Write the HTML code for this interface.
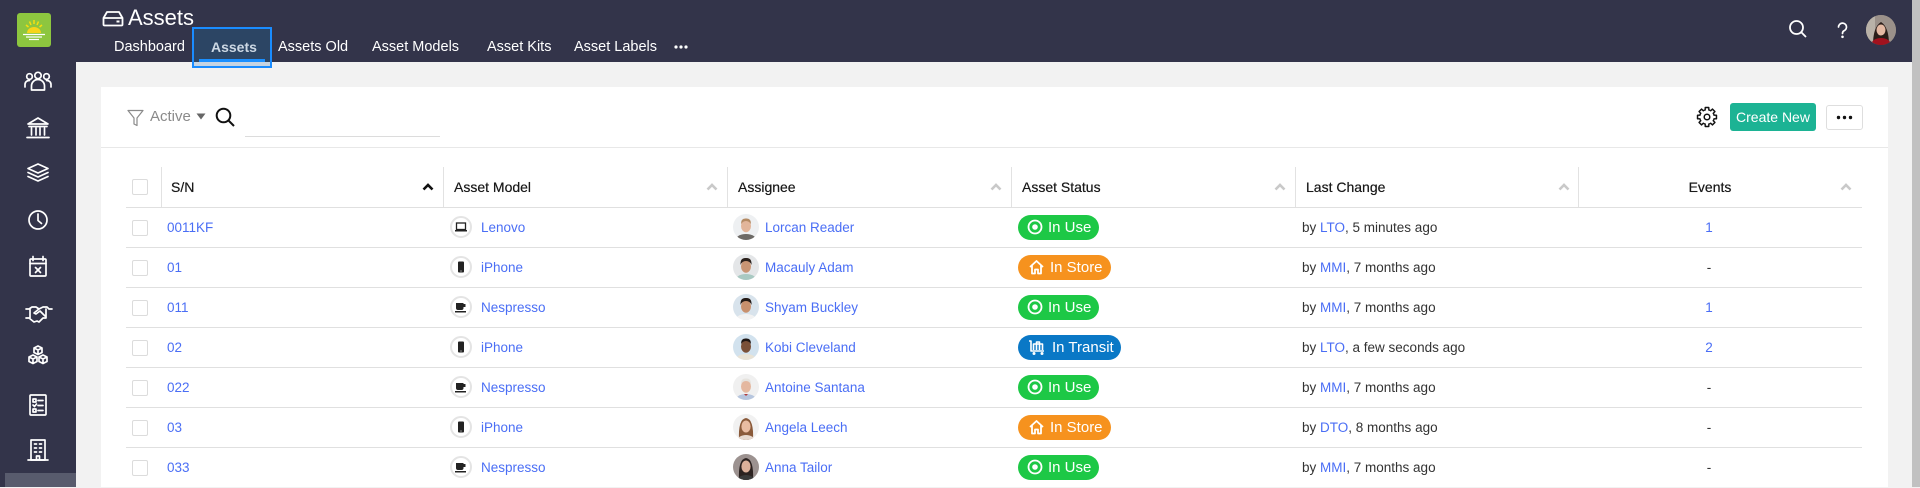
<!DOCTYPE html>
<html><head><meta charset="utf-8">
<style>
*{margin:0;padding:0;box-sizing:border-box}
body{width:1920px;height:487px;overflow:hidden;background:#f2f2f2;font-family:"Liberation Sans",sans-serif;position:relative}
.a{position:absolute}
#hdr{left:0;top:0;width:1912px;height:62px;background:#33344a}
#side{left:0;top:0;width:76px;height:487px;background:#33344a}
#sbot{left:5px;top:473px;width:71px;height:14px;background:#585b6d}
#sb{left:1912px;top:0;width:8px;height:487px;background:#c1c1c1}
.tab{top:40px;height:15px;line-height:15px;font-size:14.5px;color:#fff;white-space:nowrap}
#card{left:101px;top:87px;width:1787px;height:400px;background:#fff}
.hl{position:absolute;height:1px;background:#e0e0e0;left:126px;width:1736px}
.vs{position:absolute;top:167px;height:40px;width:1px;background:#e2e2e2}
.th{position:absolute;top:167px;height:40px;line-height:40px;font-size:14px;color:#1a1a1a;white-space:nowrap;text-shadow:0 0 0.4px #1a1a1a}
.c{position:absolute;height:40px;line-height:40px;font-size:13.5px;color:#333;white-space:nowrap}
.lk{color:#4a6ef5}
.cb{position:absolute;left:132px;width:16px;height:16px;border:1px solid #dcdcdc;border-radius:2px;background:#fff}
.mi{position:absolute;left:450px;width:22px;height:22px;border:2px solid #e4e4e4;border-radius:50%;background:#fff}
.mi svg{position:absolute;left:0;top:0}
.av{position:absolute;left:733px;width:26px;height:26px;border-radius:50%;overflow:hidden}
.pill{position:absolute;left:1018px;height:25px;border-radius:13px;color:#fff;font-size:15px;line-height:25px;white-space:nowrap}
.pill svg{position:absolute;top:4px}
.pill span{position:absolute;top:0}
.use{background:#1dc846;width:81px}
.store{background:#f6921e;width:93px}
.transit{background:#0a78c6;width:103px}
.arr{position:absolute;top:183px}
</style></head>
<body>
<div id="hdr" class="a"></div>
<div id="side" class="a"></div>
<div id="sbot" class="a"></div>
<div id="sb" class="a"></div>

<!-- sidebar svg -->
<svg class="a" style="left:0;top:0" width="76" height="487" viewBox="0 0 76 487">
  <rect x="17" y="13" width="34" height="34" rx="3" fill="#8dc63f"/>
  <g stroke="#f7de10" stroke-width="1.5">
    <line x1="34" y1="20" x2="34" y2="24"/><line x1="26" y1="25" x2="28.5" y2="27"/><line x1="42" y1="25" x2="39.5" y2="27"/>
    <line x1="29.5" y1="21.5" x2="31" y2="25"/><line x1="38.5" y1="21.5" x2="37" y2="25"/>
  </g>
  <path d="M27 33 a7 6 0 0 1 14 0 z" fill="#f7d51a"/>
  <g stroke="#fff" stroke-width="1.2"><line x1="23" y1="34.5" x2="45" y2="34.5"/><line x1="26" y1="37" x2="42" y2="37"/><line x1="29" y1="39.5" x2="39" y2="39.5"/></g>
  <g stroke="#fff" fill="none" stroke-width="1.7" stroke-linejoin="round" stroke-linecap="round">
    <circle cx="29.5" cy="76.5" r="2.8"/><circle cx="38" cy="75.5" r="3.2"/><circle cx="46.5" cy="76.5" r="2.8"/>
    <path d="M31.5 90 v-4 a6.5 6.5 0 0 1 13 0 v4 z"/>
    <path d="M25 87 v-2.5 a4 4 0 0 1 4.5 -4"/><path d="M51 87 v-2.5 a4 4 0 0 0 -4.5 -4"/>
    <path d="M28 124 L38 118 L48 124 Z"/><path d="M29 126.5h18 M31.5 128v7 M36 128v7 M40 128v7 M44.5 128v7 M27 137.5h22"/>
    <path d="M38 164 L48 168.5 L38 173 L28 168.5 Z"/><path d="M28 172.5 L38 177 L48 172.5"/><path d="M28 176.5 L38 181 L48 176.5"/>
    <circle cx="38" cy="220" r="9"/><path d="M38 214 v6.5 l3.5 3"/>
    <rect x="30" y="259" width="16" height="17" rx="1"/><path d="M30 263.5h16 M33 256.5v4 M43 256.5v4 M35.5 267.5l5 5 M40.5 267.5l-5 5"/>
    <path d="M26 309 h3 l3 -2 h4 l3 2 l4 -2 h4 l2 2 h3 M26 318 h3 l5 4 l3 -1 l2 1 l4 -4 h3 M30 309 v9 M46 309 v9 M39 309 l-5 4 l2 1 l4 -3 l5 5"/>
    <path d="M34 348 l4 -2 l4 2 v4.5 l-4 2 l-4 -2 z M34 348 l4 2 l4 -2 M38 350 v4.5"/>
    <path d="M29 357 l4 -2 l4 2 v4.5 l-4 2 l-4 -2 z M29 357 l4 2 l4 -2 M33 359 v4.5"/>
    <path d="M39 357 l4 -2 l4 2 v4.5 l-4 2 l-4 -2 z M39 357 l4 2 l4 -2 M43 359 v4.5"/>
    <rect x="30" y="395" width="16" height="20" rx="1"/><path d="M33 399h3v3h-3z M38 400.5h5 M33 405l1.5 1.5 l2 -2.5 M38 405.5h5 M33 409h3v3h-3z M38 410.5h5"/>
    <rect x="31" y="440" width="14" height="20"/><path d="M28 460h20 M34.5 444h2 M39.5 444h2 M34.5 448h2 M39.5 448h2 M34.5 452h2 M39.5 452h2 M36.5 460v-4h3v4"/>
  </g>
</svg>

<!-- title -->
<svg class="a" style="left:102px;top:10px" width="22" height="17" viewBox="0 0 22 17">
  <path d="M1.5 8 L5 2 H17 L20.5 8 V14.5 a1 1 0 0 1 -1 1 H2.5 a1 1 0 0 1 -1 -1 Z M1.5 8 H20.5" fill="none" stroke="#fff" stroke-width="1.8" stroke-linejoin="round"/>
  <rect x="14.5" y="10.5" width="3" height="2" fill="#fff"/>
</svg>
<div class="a" style="left:128px;top:7px;font-size:22px;line-height:22px;color:#fff">Assets</div>

<!-- tabs -->
<div class="tab a" style="left:114px">Dashboard</div>
<div class="a" style="left:192px;top:27px;width:80px;height:41px;border:2px solid #1a8cff;background:#2c4564"></div>
<div class="a" style="left:194px;top:62px;width:76px;height:4px;background:#c6d4e2"></div>
<div class="a" style="left:199px;top:59px;width:66px;height:3px;background:#1a8fff"></div>
<div class="tab a" style="left:211px;color:#cdd8e4;font-weight:bold;font-size:14px">Assets</div>
<div class="tab a" style="left:278px">Assets Old</div>
<div class="tab a" style="left:372px">Asset Models</div>
<div class="tab a" style="left:487px">Asset Kits</div>
<div class="tab a" style="left:574px">Asset Labels</div>
<svg class="a" style="left:674px;top:44px" width="14" height="6"><circle cx="2" cy="3" r="1.6" fill="#fff"/><circle cx="7" cy="3" r="1.6" fill="#fff"/><circle cx="12" cy="3" r="1.6" fill="#fff"/></svg>

<!-- header right -->
<svg class="a" style="left:1788px;top:19px" width="20" height="20" viewBox="0 0 20 20"><circle cx="8.5" cy="8.5" r="6.5" fill="none" stroke="#fff" stroke-width="1.8"/><line x1="13.3" y1="13.3" x2="18" y2="18" stroke="#fff" stroke-width="1.8"/></svg>
<svg class="a" style="left:1836px;top:22px" width="13" height="17" viewBox="0 0 13 17"><path d="M2.5 5 a4 4 0 1 1 5.5 3.8 c-1.3 0.6 -1.5 1.3 -1.5 2.7" fill="none" stroke="#fff" stroke-width="1.7" stroke-linecap="round"/><circle cx="6.5" cy="14.8" r="1.3" fill="#fff"/></svg>
<div class="a" style="left:1866px;top:15px;width:30px;height:30px;border-radius:50%;overflow:hidden;background:#8a8078">
  <svg width="30" height="30" viewBox="0 0 30 30"><rect width="30" height="30" fill="#9b918a"/><rect x="0" y="0" width="9" height="30" fill="#b9b2a8"/><path d="M7 30 Q7 12 15 7 Q23 12 23 30Z" fill="#2a1d18"/><ellipse cx="15" cy="15" rx="4.5" ry="5.5" fill="#e4b9a3"/><ellipse cx="15" cy="30" rx="10" ry="7" fill="#a1121e"/></svg>
</div>

<!-- card -->
<div id="card" class="a"></div>
<div class="a" style="left:101px;top:147px;width:1787px;height:1px;background:#e8e8e8"></div>

<!-- toolbar -->
<svg class="a" style="left:127px;top:109px" width="17" height="18" viewBox="0 0 17 18"><path d="M1 1.5 H16 L10 9 V16.5 L7 15 V9 Z" fill="none" stroke="#8a8a8a" stroke-width="1.2" stroke-linejoin="round"/></svg>
<div class="a" style="left:150px;top:108px;font-size:15px;line-height:18px;color:#8a8a8a">Active</div>
<svg class="a" style="left:196px;top:113px" width="10" height="7"><path d="M0.5 0.5 H9.5 L5 6.5Z" fill="#666"/></svg>
<svg class="a" style="left:215px;top:107px" width="21" height="20" viewBox="0 0 21 20"><circle cx="8.5" cy="8.5" r="6.8" fill="none" stroke="#111" stroke-width="2"/><line x1="13.5" y1="13.5" x2="19" y2="19" stroke="#111" stroke-width="2"/></svg>
<div class="a" style="left:245px;top:136px;width:195px;height:1px;background:#dcdcdc"></div>

<svg class="a" style="left:1696px;top:106px" width="22" height="22" viewBox="0 0 22 22">
  <g fill="#111">
    <circle cx="11" cy="11" r="8"/>
    <rect x="8.5" y="0.8" width="5" height="5" rx="0.8" transform="rotate(0 11 11)"/>
    <rect x="8.5" y="0.8" width="5" height="5" rx="0.8" transform="rotate(45 11 11)"/>
    <rect x="8.5" y="0.8" width="5" height="5" rx="0.8" transform="rotate(90 11 11)"/>
    <rect x="8.5" y="0.8" width="5" height="5" rx="0.8" transform="rotate(135 11 11)"/>
    <rect x="8.5" y="0.8" width="5" height="5" rx="0.8" transform="rotate(180 11 11)"/>
    <rect x="8.5" y="0.8" width="5" height="5" rx="0.8" transform="rotate(225 11 11)"/>
    <rect x="8.5" y="0.8" width="5" height="5" rx="0.8" transform="rotate(270 11 11)"/>
    <rect x="8.5" y="0.8" width="5" height="5" rx="0.8" transform="rotate(315 11 11)"/>
  </g>
  <g fill="#fff">
    <circle cx="11" cy="11" r="6.6"/>
    <rect x="9.9" y="2.3" width="2.2" height="4.5" transform="rotate(0 11 11)"/>
    <rect x="9.9" y="2.3" width="2.2" height="4.5" transform="rotate(45 11 11)"/>
    <rect x="9.9" y="2.3" width="2.2" height="4.5" transform="rotate(90 11 11)"/>
    <rect x="9.9" y="2.3" width="2.2" height="4.5" transform="rotate(135 11 11)"/>
    <rect x="9.9" y="2.3" width="2.2" height="4.5" transform="rotate(180 11 11)"/>
    <rect x="9.9" y="2.3" width="2.2" height="4.5" transform="rotate(225 11 11)"/>
    <rect x="9.9" y="2.3" width="2.2" height="4.5" transform="rotate(270 11 11)"/>
    <rect x="9.9" y="2.3" width="2.2" height="4.5" transform="rotate(315 11 11)"/>
  </g>
  <circle cx="11" cy="11" r="2.8" fill="none" stroke="#111" stroke-width="1.5"/>
</svg>
<div class="a" style="left:1730px;top:103px;width:86px;height:28px;background:#1cb394;border-radius:3px;color:#fff;font-size:14px;line-height:28px;text-align:center">Create New</div>
<div class="a" style="left:1826px;top:105px;width:37px;height:25px;border:1px solid #dedede;border-radius:3px;background:#fff"></div>
<svg class="a" style="left:1836px;top:115px" width="17" height="5"><circle cx="2.5" cy="2.5" r="1.7" fill="#111"/><circle cx="8.5" cy="2.5" r="1.7" fill="#111"/><circle cx="14.5" cy="2.5" r="1.7" fill="#111"/></svg>

<!-- table header -->
<div class="cb" style="top:179px"></div>
<div class="vs" style="left:161px"></div>
<div class="vs" style="left:443px"></div>
<div class="vs" style="left:727px"></div>
<div class="vs" style="left:1011px"></div>
<div class="vs" style="left:1295px"></div>
<div class="vs" style="left:1578px"></div>
<div class="th" style="left:171px">S/N</div>
<div class="th" style="left:454px">Asset Model</div>
<div class="th" style="left:738px">Assignee</div>
<div class="th" style="left:1022px">Asset Status</div>
<div class="th" style="left:1306px">Last Change</div>
<div class="th" style="left:1578px;width:264px;text-align:center">Events</div>
<svg class="arr" style="left:422px" width="12" height="8"><path d="M1.5 6.5 L6 2 L10.5 6.5" fill="none" stroke="#111" stroke-width="2.6"/></svg>
<svg class="arr" style="left:706px" width="12" height="8"><path d="M1.5 6.5 L6 2 L10.5 6.5" fill="none" stroke="#c9c9c9" stroke-width="2.6"/></svg>
<svg class="arr" style="left:990px" width="12" height="8"><path d="M1.5 6.5 L6 2 L10.5 6.5" fill="none" stroke="#c9c9c9" stroke-width="2.6"/></svg>
<svg class="arr" style="left:1274px" width="12" height="8"><path d="M1.5 6.5 L6 2 L10.5 6.5" fill="none" stroke="#c9c9c9" stroke-width="2.6"/></svg>
<svg class="arr" style="left:1558px" width="12" height="8"><path d="M1.5 6.5 L6 2 L10.5 6.5" fill="none" stroke="#c9c9c9" stroke-width="2.6"/></svg>
<svg class="arr" style="left:1840px" width="12" height="8"><path d="M1.5 6.5 L6 2 L10.5 6.5" fill="none" stroke="#c9c9c9" stroke-width="2.6"/></svg>

<!-- row lines -->
<div class="hl" style="top:207px"></div>
<div class="hl" style="top:247px"></div>
<div class="hl" style="top:287px"></div>
<div class="hl" style="top:327px"></div>
<div class="hl" style="top:367px"></div>
<div class="hl" style="top:407px"></div>
<div class="hl" style="top:447px"></div>

<!-- Row 1 -->
<div class="cb" style="top:220px"></div>
<div class="c lk" style="left:167px;top:208px">0011KF</div>
<div class="mi" style="top:216px"><svg width="18" height="18" viewBox="0 0 18 18"><rect x="4.5" y="5" width="9" height="6.5" fill="none" stroke="#222" stroke-width="1.3"/><rect x="3" y="12" width="12" height="1.5" fill="#222"/></svg></div>
<div class="c lk" style="left:481px;top:208px">Lenovo</div>
<div class="av" style="top:214px"><svg width="26" height="26" viewBox="0 0 26 26"><rect width="26" height="26" fill="#eef0f2"/><ellipse cx="13" cy="27" rx="11" ry="7" fill="#6d6a66"/><ellipse cx="13" cy="12" rx="5" ry="6.2" fill="#e2b59a"/><path d="M8 10 Q8 4 13 4.5 Q18 4 18 10 Q16 7 13 7 Q10 7 8 10Z" fill="#b48a63"/></svg></div>
<div class="c lk" style="left:765px;top:208px">Lorcan Reader</div>
<div class="pill use" style="top:215px"><svg style="left:9px" width="16" height="16" viewBox="0 0 16 16"><circle cx="8" cy="8" r="6.5" fill="none" stroke="#fff" stroke-width="1.8"/><circle cx="8" cy="8" r="2.8" fill="#fff"/></svg><span style="left:30px">In Use</span></div>
<div class="c" style="left:1302px;top:208px">by <span class="lk">LTO</span>, 5 minutes ago</div>
<div class="c lk" style="left:1578px;top:208px;width:262px;text-align:center">1</div>

<!-- Row 2 -->
<div class="cb" style="top:260px"></div>
<div class="c lk" style="left:167px;top:248px">01</div>
<div class="mi" style="top:256px"><svg width="18" height="18" viewBox="0 0 18 18"><rect x="6" y="3.5" width="6" height="11" rx="1" fill="#222"/><rect x="8" y="12.5" width="2" height="1" fill="#888"/></svg></div>
<div class="c lk" style="left:481px;top:248px">iPhone</div>
<div class="av" style="top:254px"><svg width="26" height="26" viewBox="0 0 26 26"><rect width="26" height="26" fill="#e4e6e8"/><ellipse cx="13" cy="27" rx="11" ry="7" fill="#a9c9c2"/><ellipse cx="13" cy="12.5" rx="5" ry="6.2" fill="#c99574"/><path d="M7.5 11 Q7 3.5 13 4 Q19 3.5 18.5 11 Q17 7 13 7 Q9 7 7.5 11Z" fill="#2b211c"/></svg></div>
<div class="c lk" style="left:765px;top:248px">Macauly Adam</div>
<div class="pill store" style="top:255px"><svg style="left:10px" width="17" height="16" viewBox="0 0 17 16"><path d="M2 8 L8.5 2 L15 8 M4 6.5 V14.5 H7 V10.5 H10 V14.5 H13 V6.5" fill="none" stroke="#fff" stroke-width="1.8" stroke-linejoin="round"/></svg><span style="left:32px">In Store</span></div>
<div class="c" style="left:1302px;top:248px">by <span class="lk">MMI</span>, 7 months ago</div>
<div class="c" style="left:1578px;top:248px;width:262px;text-align:center">-</div>

<!-- Row 3 -->
<div class="cb" style="top:300px"></div>
<div class="c lk" style="left:167px;top:288px">011</div>
<div class="mi" style="top:296px"><svg width="18" height="18" viewBox="0 0 18 18"><path d="M4 5 H11.5 V10 Q11.5 12 9.5 12 H6 Q4 12 4 10Z M11.5 6 H13.5 V9 H11.5" fill="#222"/><rect x="3" y="13" width="11" height="1.5" fill="#222"/></svg></div>
<div class="c lk" style="left:481px;top:288px">Nespresso</div>
<div class="av" style="top:294px"><svg width="26" height="26" viewBox="0 0 26 26"><rect width="26" height="26" fill="#d8e3ec"/><ellipse cx="13" cy="27" rx="11" ry="7" fill="#f2f2f2"/><ellipse cx="13" cy="12.5" rx="5" ry="6.2" fill="#c8906d"/><path d="M7.5 11 Q7 3.5 13 4 Q19 3.5 18.5 11 Q17 7 13 7 Q9 7 7.5 11Z" fill="#241a16"/></svg></div>
<div class="c lk" style="left:765px;top:288px">Shyam Buckley</div>
<div class="pill use" style="top:295px"><svg style="left:9px" width="16" height="16" viewBox="0 0 16 16"><circle cx="8" cy="8" r="6.5" fill="none" stroke="#fff" stroke-width="1.8"/><circle cx="8" cy="8" r="2.8" fill="#fff"/></svg><span style="left:30px">In Use</span></div>
<div class="c" style="left:1302px;top:288px">by <span class="lk">MMI</span>, 7 months ago</div>
<div class="c lk" style="left:1578px;top:288px;width:262px;text-align:center">1</div>

<!-- Row 4 -->
<div class="cb" style="top:340px"></div>
<div class="c lk" style="left:167px;top:328px">02</div>
<div class="mi" style="top:336px"><svg width="18" height="18" viewBox="0 0 18 18"><rect x="6" y="3.5" width="6" height="11" rx="1" fill="#222"/><rect x="8" y="12.5" width="2" height="1" fill="#888"/></svg></div>
<div class="c lk" style="left:481px;top:328px">iPhone</div>
<div class="av" style="top:334px"><svg width="26" height="26" viewBox="0 0 26 26"><rect width="26" height="26" fill="#d2e2ee"/><ellipse cx="13" cy="27" rx="11" ry="7" fill="#e9e3d6"/><ellipse cx="13" cy="12.5" rx="5" ry="6.2" fill="#7a5038"/><path d="M8 10 Q8 4 13 4.5 Q18 4 18 10 Q16 7 13 7 Q10 7 8 10Z" fill="#1f1613"/></svg></div>
<div class="c lk" style="left:765px;top:328px">Kobi Cleveland</div>
<div class="pill transit" style="top:335px"><svg style="left:10px" width="18" height="17" viewBox="0 0 18 17"><path d="M1 2 H3 V12 H16 M5.5 11 V5 H14.5 V11 M8.5 5 V3 H11.5 V5 M8.5 5 V11 M11.5 5 V11" fill="none" stroke="#fff" stroke-width="1.6" stroke-linejoin="round"/><circle cx="6" cy="14.5" r="1.5" fill="#fff"/><circle cx="14" cy="14.5" r="1.5" fill="#fff"/></svg><span style="left:34px">In Transit</span></div>
<div class="c" style="left:1302px;top:328px">by <span class="lk">LTO</span>, a few seconds ago</div>
<div class="c lk" style="left:1578px;top:328px;width:262px;text-align:center">2</div>

<!-- Row 5 -->
<div class="cb" style="top:380px"></div>
<div class="c lk" style="left:167px;top:368px">022</div>
<div class="mi" style="top:376px"><svg width="18" height="18" viewBox="0 0 18 18"><path d="M4 5 H11.5 V10 Q11.5 12 9.5 12 H6 Q4 12 4 10Z M11.5 6 H13.5 V9 H11.5" fill="#222"/><rect x="3" y="13" width="11" height="1.5" fill="#222"/></svg></div>
<div class="c lk" style="left:481px;top:368px">Nespresso</div>
<div class="av" style="top:374px"><svg width="26" height="26" viewBox="0 0 26 26"><rect width="26" height="26" fill="#f0f0f0"/><ellipse cx="13" cy="27" rx="11" ry="7" fill="#b7c6de"/><path d="M11 20 L15 20 L13 22Z" fill="#b33a3a"/><ellipse cx="13" cy="12.5" rx="5" ry="6.2" fill="#e4b8a0"/><path d="M8 10 Q8 4 13 4.5 Q18 4 18 10 Q16 7 13 7 Q10 7 8 10Z" fill="#e6e3de"/></svg></div>
<div class="c lk" style="left:765px;top:368px">Antoine Santana</div>
<div class="pill use" style="top:375px"><svg style="left:9px" width="16" height="16" viewBox="0 0 16 16"><circle cx="8" cy="8" r="6.5" fill="none" stroke="#fff" stroke-width="1.8"/><circle cx="8" cy="8" r="2.8" fill="#fff"/></svg><span style="left:30px">In Use</span></div>
<div class="c" style="left:1302px;top:368px">by <span class="lk">MMI</span>, 7 months ago</div>
<div class="c" style="left:1578px;top:368px;width:262px;text-align:center">-</div>

<!-- Row 6 -->
<div class="cb" style="top:420px"></div>
<div class="c lk" style="left:167px;top:408px">03</div>
<div class="mi" style="top:416px"><svg width="18" height="18" viewBox="0 0 18 18"><rect x="6" y="3.5" width="6" height="11" rx="1" fill="#222"/><rect x="8" y="12.5" width="2" height="1" fill="#888"/></svg></div>
<div class="c lk" style="left:481px;top:408px">iPhone</div>
<div class="av" style="top:414px"><svg width="26" height="26" viewBox="0 0 26 26"><rect width="26" height="26" fill="#f1f1f1"/><path d="M6 26 Q5 5 13 4 Q21 5 20 26Z" fill="#8a5a3a"/><ellipse cx="13" cy="27" rx="9" ry="6" fill="#e7d9cf"/><ellipse cx="13" cy="12.5" rx="4.6" ry="6" fill="#e9bca2"/></svg></div>
<div class="c lk" style="left:765px;top:408px">Angela Leech</div>
<div class="pill store" style="top:415px"><svg style="left:10px" width="17" height="16" viewBox="0 0 17 16"><path d="M2 8 L8.5 2 L15 8 M4 6.5 V14.5 H7 V10.5 H10 V14.5 H13 V6.5" fill="none" stroke="#fff" stroke-width="1.8" stroke-linejoin="round"/></svg><span style="left:32px">In Store</span></div>
<div class="c" style="left:1302px;top:408px">by <span class="lk">DTO</span>, 8 months ago</div>
<div class="c" style="left:1578px;top:408px;width:262px;text-align:center">-</div>

<!-- Row 7 -->
<div class="cb" style="top:460px"></div>
<div class="c lk" style="left:167px;top:448px">033</div>
<div class="mi" style="top:456px"><svg width="18" height="18" viewBox="0 0 18 18"><path d="M4 5 H11.5 V10 Q11.5 12 9.5 12 H6 Q4 12 4 10Z M11.5 6 H13.5 V9 H11.5" fill="#222"/><rect x="3" y="13" width="11" height="1.5" fill="#222"/></svg></div>
<div class="c lk" style="left:481px;top:448px">Nespresso</div>
<div class="av" style="top:454px"><svg width="26" height="26" viewBox="0 0 26 26"><rect width="26" height="26" fill="#9c9290"/><path d="M6 26 Q5 5 13 4 Q21 5 20 26Z" fill="#2c2220"/><ellipse cx="13" cy="27" rx="9" ry="6" fill="#3a3a3a"/><ellipse cx="13" cy="12.5" rx="4.6" ry="6" fill="#dcb09a"/></svg></div>
<div class="c lk" style="left:765px;top:448px">Anna Tailor</div>
<div class="pill use" style="top:455px"><svg style="left:9px" width="16" height="16" viewBox="0 0 16 16"><circle cx="8" cy="8" r="6.5" fill="none" stroke="#fff" stroke-width="1.8"/><circle cx="8" cy="8" r="2.8" fill="#fff"/></svg><span style="left:30px">In Use</span></div>
<div class="c" style="left:1302px;top:448px">by <span class="lk">MMI</span>, 7 months ago</div>
<div class="c" style="left:1578px;top:448px;width:262px;text-align:center">-</div>

</body></html>
